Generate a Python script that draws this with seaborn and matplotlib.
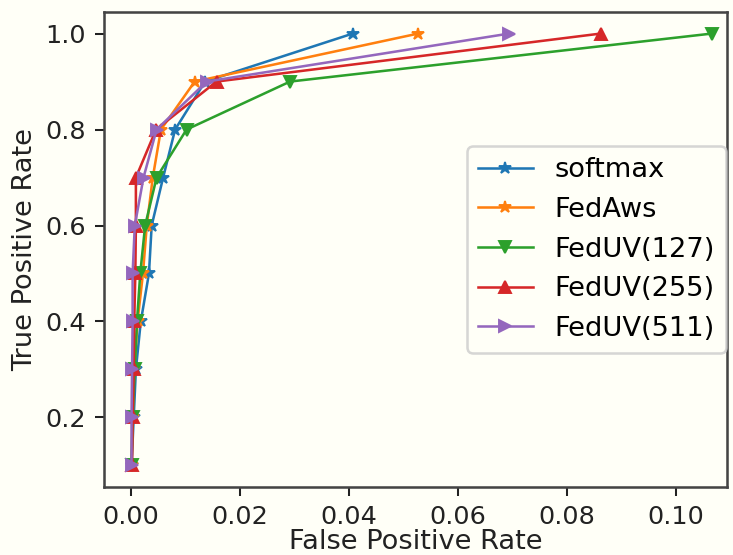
import pandas as pd
import seaborn as sns
import matplotlib
matplotlib.use("Agg")
import matplotlib.pyplot as plt

# TPR levels shared by every curve
tpr = [0.1, 0.2, 0.3, 0.4, 0.5, 0.6, 0.7, 0.8, 0.9, 1.0]

# FPR, one list per method
fpr_softmax = [0.0001, 0.0005, 0.0009, 0.0018, 0.0033, 0.0038, 0.0059, 0.0081, 0.0136, 0.0407]
fpr_fedaws = [0.0001, 0.0003, 0.0006, 0.0012, 0.0022, 0.0029, 0.0040, 0.0055, 0.0117, 0.0527]
fpr_feduv127 = [0.0001, 0.0003, 0.0007, 0.0011, 0.0017, 0.0026, 0.0047, 0.0102, 0.0292, 0.1066]
fpr_feduv255 = [0.0002, 0.0003, 0.0005, 0.0006, 0.0008, 0.0009, 0.0009, 0.0046, 0.0157, 0.0862]
fpr_feduv511 = [0.0001, 0.0001, 0.0002, 0.0003, 0.0003, 0.0007, 0.0023, 0.0047, 0.0139, 0.0694]

methods = ["softmax", "FedAws", "FedUV(127)", "FedUV(255)", "FedUV(511)"]
markers = ["*", "*", "v", "^", ">"]
colors = ["C0", "C1", "C2", "C3", "C4"]

series = [fpr_softmax, fpr_fedaws, fpr_feduv127, fpr_feduv255, fpr_feduv511]

bg = "#fffff7"
dpi = 183.25
fig = plt.figure(figsize=(733 / dpi, 555 / dpi), dpi=dpi, facecolor=bg)
ax = fig.add_axes([0.1419, 0.1225, 0.8499, 0.8559])
ax.set_facecolor(bg)

for name, fpr, m, c in zip(methods, series, markers, colors):
    df = pd.DataFrame({"fpr": fpr, "tpr": tpr})
    sns.lineplot(data=df, x="fpr", y="tpr", marker=m, color=c, label=name,
                 estimator=None, sort=False, markeredgecolor=c,
                 linewidth=1.0, markersize=5, ax=ax)

ax.set_xlim(-0.00495, 0.1094)
ax.set_xticks([0.00, 0.02, 0.04, 0.06, 0.08, 0.10])
ax.set_yticks([0.2, 0.4, 0.6, 0.8, 1.0])
ax.tick_params(labelsize=10, colors="#222222")
for s in ax.spines.values():
    s.set_color("#444444")
    s.set_linewidth(1.0)
ax.set_xlabel("False Positive Rate", fontsize=10.7, labelpad=0, color="#222222")
ax.set_ylabel("True Positive Rate", fontsize=10.7, labelpad=3, color="#222222")
leg = ax.legend(loc="center right", fontsize=10.7, borderaxespad=0.05)
leg.get_frame().set_facecolor(bg)

fig.savefig("out.png", dpi=dpi, facecolor=bg)
